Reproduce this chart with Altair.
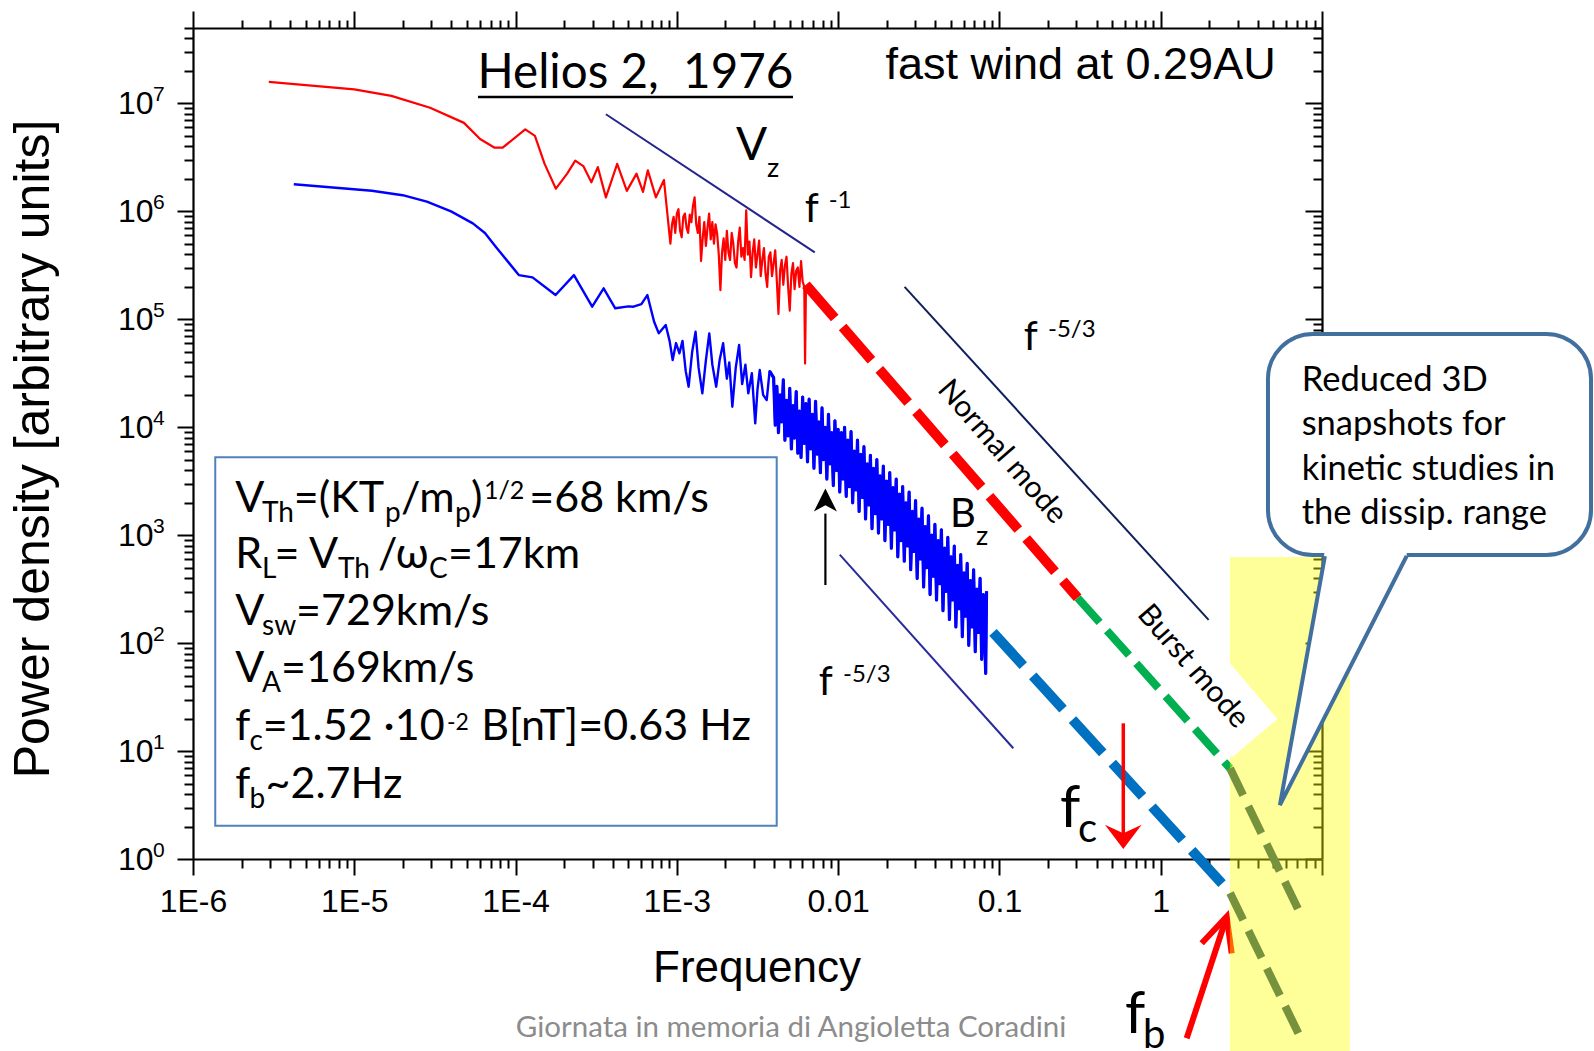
import altair as alt
import numpy as np
import pandas as pd

# ---------------- spectra (log10 f [Hz], log10 power) ----------------
vz_logf = [-5.53, -5.00, -4.77, -4.53, -4.32, -4.22, -4.13, -4.08, -3.94, -3.88, -3.82, -3.75,
           -3.68, -3.63, -3.58, -3.53, -3.49, -3.44, -3.37, -3.31, -3.25, -3.21, -3.18, -3.13,
           -3.08,
           -3.04, -3.03, -3.02, -3.01, -3.00, -2.99, -2.98, -2.97, -2.96, -2.95,
           -2.94, -2.93, -2.92, -2.91, -2.90, -2.89, -2.88, -2.87, -2.86, -2.85,
           -2.84, -2.83, -2.82, -2.81, -2.80, -2.79, -2.78, -2.77, -2.76, -2.75,
           -2.74, -2.73, -2.72, -2.71, -2.70, -2.69, -2.68, -2.67, -2.66, -2.65,
           -2.64, -2.63, -2.62, -2.61, -2.60, -2.59, -2.58, -2.57, -2.56, -2.55,
           -2.54, -2.53, -2.52, -2.51, -2.50, -2.49, -2.48, -2.47, -2.46, -2.45,
           -2.44, -2.43, -2.42, -2.41, -2.40, -2.39, -2.38, -2.37, -2.36, -2.35,
           -2.34, -2.33, -2.32, -2.31, -2.30, -2.29, -2.28, -2.27, -2.26, -2.25,
           -2.24, -2.23, -2.22, -2.21, -2.205, -2.20]
vz_logp = [7.20, 7.13, 7.07, 6.96, 6.82, 6.67, 6.59, 6.59, 6.76, 6.70, 6.44, 6.21,
           6.35, 6.47, 6.42, 6.27, 6.41, 6.13, 6.44, 6.19, 6.35, 6.18, 6.38, 6.13,
           6.29,
           5.70, 5.88, 5.95, 5.80, 5.98, 6.02, 5.82, 5.76, 5.95, 5.98,
           5.85, 5.80, 5.97, 5.90, 6.05, 6.13, 5.88, 5.80, 5.95, 5.54,
           5.75, 5.90, 5.68, 5.85, 5.98, 5.74, 5.90, 5.70, 5.88, 5.79,
           5.60, 5.27, 5.62, 5.75, 5.55, 5.82, 5.62, 5.55, 5.80, 5.70,
           5.52, 5.48, 5.72, 5.85, 5.58, 5.66, 5.55, 6.01, 5.60, 5.72,
           5.39, 5.62, 5.74, 5.48, 5.60, 5.73, 5.40, 5.55, 5.66, 5.42,
           5.30, 5.58, 5.62, 5.40, 5.52, 5.64, 5.35, 5.05, 5.45, 5.55,
           5.32, 5.50, 5.58, 5.30, 5.08, 5.42, 5.52, 5.28, 5.45, 5.48,
           5.30, 5.54, 5.35, 5.30, 4.59, 5.27]

bz_logf = [-5.375, -4.891, -4.70, -4.550, -4.40, -4.265, -4.19, -4.123, -3.980, -3.895, -3.752,
           -3.638, -3.525, -3.454, -3.382, -3.30, -3.269, -3.22, -3.183, -3.141, -3.112,
           -3.069, -3.045, -3.026, -3.005, -2.984, -2.965, -2.945, -2.927, -2.905, -2.884,
           -2.865, -2.842, -2.82, -2.799, -2.78, -2.756, -2.735, -2.713, -2.69, -2.675,
           -2.656, -2.635, -2.614, -2.595, -2.575, -2.557, -2.535, -2.514, -2.50, -2.486,
           -2.465, -2.443, -2.425,
           -2.40, -2.39, -2.38, -2.37, -2.36, -2.35, -2.34, -2.33, -2.32, -2.31, -2.30,
           -2.29, -2.28, -2.27, -2.26, -2.25, -2.24, -2.23, -2.22, -2.21, -2.20,
           -2.19, -2.18, -2.17, -2.16, -2.15, -2.14, -2.13, -2.12, -2.11, -2.10,
           -2.09, -2.08, -2.07, -2.06, -2.05, -2.04, -2.03, -2.02, -2.01, -2.00,
           -1.99, -1.98, -1.97, -1.96, -1.95, -1.94, -1.93, -1.92, -1.91, -1.90,
           -1.89, -1.88, -1.87, -1.86, -1.85, -1.84, -1.83, -1.82, -1.81, -1.80,
           -1.79, -1.78, -1.77, -1.76, -1.75, -1.74, -1.73, -1.72, -1.71, -1.70,
           -1.69, -1.68, -1.67, -1.66, -1.65, -1.64, -1.63, -1.62, -1.61, -1.60,
           -1.59, -1.58, -1.57, -1.56, -1.55, -1.54, -1.53, -1.52, -1.51, -1.50,
           -1.49, -1.48, -1.47, -1.46, -1.45, -1.44, -1.43, -1.42, -1.41, -1.40,
           -1.39, -1.38, -1.37, -1.36, -1.35, -1.34, -1.33, -1.32, -1.31, -1.30,
           -1.29, -1.28, -1.27, -1.26, -1.25, -1.24, -1.23, -1.22, -1.21, -1.20,
           -1.19, -1.18, -1.17, -1.16, -1.15, -1.14, -1.13, -1.12, -1.11, -1.10,
           -1.09, -1.085, -1.08]
bz_logp = [6.251, 6.191, 6.15, 6.090, 6.00, 5.889, 5.80, 5.673, 5.410, 5.389, 5.225,
           5.410, 5.117, 5.287, 5.102, 5.12, 5.117, 5.14, 5.225, 4.978, 4.870,
           4.947, 4.80, 4.623, 4.78, 4.685, 4.80, 4.52, 4.376, 4.70, 4.885,
           4.55, 4.314, 4.62, 4.870, 4.58, 4.376, 4.62, 4.778, 4.45, 4.60,
           4.190, 4.55, 4.762, 4.40, 4.58, 4.314, 4.50, 4.036, 4.35, 4.530,
           4.30, 4.252, 4.52,
           4.46, 4.02, 4.38, 3.95, 4.30, 4.05, 4.44, 3.88, 4.25, 3.92, 4.36,
           3.80, 4.20, 3.90, 4.33, 3.76, 4.15, 3.72, 4.28, 3.85, 4.22,
           3.68, 4.26, 3.80, 4.12, 3.62, 4.24, 3.75, 4.05, 3.58, 4.18,
           3.70, 4.00, 3.52, 4.12, 3.66, 3.95, 3.46, 4.06, 3.60, 3.98,
           3.40, 3.95, 3.52, 4.00, 3.36, 3.88, 3.45, 3.96, 3.30, 3.78,
           3.42, 3.88, 3.22, 3.75, 3.35, 3.82, 3.15, 3.66, 3.28, 3.74,
           3.06, 3.62, 3.20, 3.70, 3.02, 3.55, 3.15, 3.64, 2.95, 3.50,
           3.10, 3.58, 2.88, 3.44, 3.05, 3.52, 2.80, 3.38, 2.95, 3.45,
           2.76, 3.30, 2.90, 3.40, 2.68, 3.22, 2.85, 3.32, 2.60, 3.15,
           2.78, 3.25, 2.52, 3.08, 2.70, 3.18, 2.45, 3.00, 2.62, 3.10,
           2.40, 2.95, 2.55, 3.05, 2.30, 2.88, 2.48, 2.98, 2.22, 2.80,
           2.40, 2.90, 2.15, 2.72, 2.32, 2.82, 2.06, 2.65, 2.25, 2.74,
           1.98, 2.58, 2.15, 2.68, 1.92, 2.50, 2.10, 2.60, 1.85, 2.45,
           1.95, 1.72, 2.48]
bz_dense_from = -2.43   # start of the densely sampled high-frequency part

# extrapolated power laws (dashed), log10 end points
vz_normal_logf, vz_normal_logp = [-2.20, -0.515], [5.32, 2.42]
vz_burst_logf, vz_burst_logp = [-0.515, 0.43], [2.42, 0.84]
vz_diss_logf, vz_diss_logp = [0.43, 0.863], [0.84, -0.50]
bz_ext_logf, bz_ext_logp = [-1.04, 0.418], [2.10, -0.29]
bz_diss_logf, bz_diss_logp = [0.43, 0.865], [-0.315, -1.65]

# reference slopes f^-1 and f^-5/3
guide_seg = [0, 0, 1, 1, 2, 2]
guide_logf = [-3.44, -2.145, -1.588, 0.297, -1.99, -0.914]
guide_logp = [6.90, 5.62, 5.30, 2.216, 2.82, 1.026]
guide_col = ["#23248C", "#23248C", "#0E1F5B", "#0E1F5B", "#2A2A9C", "#2A2A9C"]

# characteristic frequencies
fc_logf, fb_logf = -0.232, 0.429

# ---------------- annotation texts ----------------
calibri_txt = [
    ("V", -2.633, 6.476, 46), ("z", -2.441, 6.321, 27),
    ("f", -2.207, 5.904, 40), ("-1", -2.059, 6.031, 24),
    ("f", -0.849, 4.716, 40), ("-5/3", -0.699, 4.839, 24),
    ("f", -2.121, 1.519, 40), ("-5/3", -1.970, 1.643, 24),
    ("B", -1.307, 3.079, 40), ("z", -1.145, 2.909, 27),
    ("f", -0.625, 0.299, 58), ("c", -0.513, 0.160, 40),
    ("f", -0.222, -1.612, 58), ("b", -0.110, -1.751, 40),
    # info box
    ("V", -5.738, 3.218, 43), ("Th", -5.572, 3.125, 28), ("=(KT", -5.375, 3.218, 43),
    ("p", -4.810, 3.125, 28), ("/m", -4.711, 3.218, 43), ("p", -4.376, 3.125, 28),
    (")", -4.276, 3.218, 43), ("1/2", -4.196, 3.332, 25), ("=68 km/s", -3.915, 3.218, 43),
    ("R", -5.738, 2.693, 43), ("L", -5.572, 2.601, 28), ("= V", -5.494, 2.693, 43),
    ("Th", -5.101, 2.601, 28), ("/ω", -4.853, 2.693, 43), ("C", -4.537, 2.601, 28),
    ("=17km", -4.419, 2.693, 43),
    ("V", -5.738, 2.168, 43), ("sw", -5.572, 2.075, 28), ("=729km/s", -5.361, 2.168, 43),
    ("V", -5.738, 1.643, 43), ("A", -5.572, 1.550, 28), ("=169km/s", -5.454, 1.643, 43),
    ("f", -5.738, 1.102, 43), ("c", -5.650, 1.010, 28), ("=1.52 ·10", -5.568, 1.102, 43),
    ("-2", -4.425, 1.195, 23), ("B[nT]=0.63 Hz", -4.213, 1.102, 43),
    ("f", -5.738, 0.562, 43), ("b", -5.650, 0.470, 28), ("~2.7Hz", -5.550, 0.562, 43),
    # callout
    ("Reduced 3D", 0.874, 4.339, 34.5), ("snapshots for", 0.874, 3.928, 34.5),
    ("kinetic studies in", 0.874, 3.511, 34.5), ("the dissip. range", 0.874, 3.104, 34.5),
]
rotated_txt = [("Normal mode", -0.984, 3.771, 30, 49), ("Burst mode", 0.200, 1.782, 30, 49)]
title_txt = ("Helios 2,\u00a0 1976", -3.257, 7.140, 47.5)
title_line_logf, title_line_logp = [-4.233, -2.280], 7.059
wind_txt = ("fast wind at 0.29AU", -0.497, 7.223, 45)
credit_txt = ("Giornata in memoria di Angioletta Coradini", -2.292, -1.649, 29.5)

# y tick exponents (decades shown on the power axis)
y_decades = [0, 1, 2, 3, 4, 5, 6, 7]

# boxes (log10 corners)
info_box = (-5.862, -2.381, 3.722, 0.309)
band_box = (0.429, 1.173, 2.798, -1.80)
callout_box = (0.665, 2.668, 4.864, 2.816)
callout_tail_logf = [1.018, 0.739, 1.525]
callout_tail_logp = [2.807, 0.500, 2.807]
burst_label_bg_logf, burst_label_bg_logp = [-0.125, 0.581], [2.359, 1.117]

# arrows
up_arrow = (-2.079, 2.538, 3.20, 3.326)      # x, shaft bottom, shaft top, head centre
fc_arrow = (fc_logf, 1.257, 0.22, 0.204)
fb_shaft_logf, fb_shaft_logp = [0.161, 0.409], [-1.661, -0.535]
fb_head_logf, fb_head_logp = [0.254, 0.409, 0.440], [-0.781, -0.535, -0.874]

# ---------------- helpers ----------------
XS = alt.Scale(type="log", domain=[1e-6, 10], nice=False)
YS = alt.Scale(type="log", domain=[1, 5e7], nice=False)


def pts(lf, lp, **cols):
    d = pd.DataFrame({"f": np.power(10.0, np.asarray(lf, float)),
                      "p": np.power(10.0, np.asarray(lp, float))})
    d["i"] = np.arange(len(d))
    for k, v in cols.items():
        d[k] = v
    return d


def xy(extra=None):
    e = dict(x=alt.X("f:Q", scale=XS, axis=None), y=alt.Y("p:Q", scale=YS, axis=None))
    if extra:
        e.update(extra)
    return e


def line(df, color, width, dash=None, cap="butt", join="round", detail=None):
    kw = dict(color=color, strokeWidth=width, strokeCap=cap, strokeJoin=join)
    if dash:
        kw["strokeDash"] = dash
    e = xy({"order": alt.Order("i:Q")})
    if detail:
        e["detail"] = alt.Detail(detail + ":N")
    return alt.Chart(df).mark_line(**kw).encode(**e)


def rect(box, **kw):
    d = pd.DataFrame({"f": [10 ** box[0]], "f2": [10 ** box[1]],
                      "p": [10 ** box[2]], "p2": [10 ** box[3]]})
    return alt.Chart(d).mark_rect(**kw).encode(
        x=alt.X("f:Q", scale=XS, axis=None), x2="f2", y=alt.Y("p:Q", scale=YS, axis=None), y2="p2")


def text_layer(rows, font, align="left", baseline="alphabetic", color="black", angle=False):
    cols = ["txt", "lf", "lp", "fs"] + (["ang"] if angle else [])
    d = pd.DataFrame(rows, columns=cols)
    d["f"] = 10 ** d["lf"]
    d["p"] = 10 ** d["lp"]
    if not angle:
        d["ang"] = 0
    return alt.Chart(d).mark_text(font=font, align=align, baseline=baseline, color=color).encode(
        **xy({"text": alt.Text("txt:N"), "size": alt.Size("fs:Q", scale=None),
              "angle": alt.Angle("ang:Q", scale=None)}))


def head(x, y, shape, size, color):
    d = pts([x], [y])
    return alt.Chart(d).mark_point(shape=shape, size=size, filled=True, color=color,
                                   opacity=1, strokeWidth=0).encode(**xy())


# ---------------- axes ----------------
x_ticks = [m * 10.0 ** e for e in range(-6, 1) for m in range(1, 10)] + [10.0]
y_ticks = [m * 10.0 ** e for e in range(0, 8) for m in range(1, 10) if m * 10.0 ** e <= 5e7]
LG = "(log(datum.value)/LN10)"
MAJ = f"abs({LG} - round({LG})) < 0.001"
xlab = (f"{MAJ} ? (round({LG}) <= -3 ? '1E' + round({LG}) : round({LG}) == -2 ? '0.01' : "
        f"round({LG}) == -1 ? '0.1' : round({LG}) == 0 ? '1' : '') : ''")
ylab = f"{MAJ} ? '10' : ''"


def tsize(big, small):
    return {"condition": {"test": MAJ, "value": big}, "value": small}


common = dict(domainColor="black", domainWidth=2.2, tickColor="black", tickWidth=2,
              grid=False, zindex=0, labelOverlap=False, labelFlush=False)
x_bottom = alt.Axis(orient="bottom", values=x_ticks, labelExpr=xlab, tickSize=tsize(16, 9),
                    labelFont="Liberation Sans", labelFontSize=32, labelColor="black",
                    labelPadding=36, labelBaseline="alphabetic",
                    title="Frequency", titleFont="Liberation Sans", titleFontSize=44,
                    titleFontWeight="normal", titleColor="black", titleX=563.5, titleY=122,
                    titleBaseline="alphabetic", titleAlign="center", **common)
y_left = alt.Axis(orient="left", values=y_ticks, labelExpr=ylab, tickSize=tsize(16, 9),
                  labelFont="Liberation Sans", labelFontSize=32, labelColor="black",
                  labelPadding=24, labelBaseline="middle", labelAlign="right",
                  title="Power density [arbitrary units]", titleFont="Liberation Sans",
                  titleFontSize=50, titleFontWeight="normal", titleColor="black",
                  titleX=-145, titleY=420.5, titleAngle=270, titleBaseline="alphabetic",
                  titleAlign="center", **common)
x_top = alt.Axis(orient="top", values=x_ticks, labels=False, tickSize=tsize(17, 8), title=None,
                 **common)
y_right = alt.Axis(orient="left", offset=-1129, values=y_ticks, labels=False,
                   tickSize=tsize(17, 9), title=None, **common)

axdf = pd.DataFrame({"f": [1e-3], "p": [10.0]})
axisA = alt.Chart(axdf).mark_point(opacity=0).encode(
    x=alt.X("f:Q", scale=XS, axis=x_bottom), y=alt.Y("p:Q", scale=YS, axis=y_left))
axisB = alt.Chart(axdf).mark_point(opacity=0).encode(
    x=alt.X("f:Q", scale=XS, axis=x_top), y=alt.Y("p:Q", scale=YS, axis=y_right))

# exponent of the power-axis tick labels (10^k)
expdf = pd.DataFrame({"f": [1e-6] * len(y_decades), "p": [10.0 ** k for k in y_decades],
                      "txt": [str(k) for k in y_decades]})
exp_layer = alt.Chart(expdf).mark_text(font="Liberation Sans", fontSize=21, align="left",
                                       baseline="alphabetic", dx=-40, dy=-2, color="black").encode(
    **xy({"text": alt.Text("txt:N")}))

# ---------------- layers ----------------
layers = [axisA, axisB, exp_layer]
layers.append(rect(info_box, fill="white", stroke="#4F81BD", strokeWidth=2))
gdf = pts(guide_logf, guide_logp, seg=guide_seg, col=guide_col)
layers.append(alt.Chart(gdf).mark_line(strokeWidth=2).encode(
    **xy({"order": alt.Order("i:Q"), "detail": alt.Detail("seg:N"),
          "color": alt.Color("col:N", scale=None)})))
layers.append(line(pts(vz_logf, vz_logp), "#FF0000", 2.2))
bz_df = pts(bz_logf, bz_logp)
layers.append(line(bz_df, "#0000FF", 2.4))
layers.append(line(bz_df, "#0000FF", 3.2).transform_filter(
    alt.datum.f >= float(10 ** bz_dense_from)))
layers.append(line(pts(vz_normal_logf, vz_normal_logp), "#FF0000", 10, dash=[44, 12]))
layers.append(line(pts(vz_burst_logf, vz_burst_logp), "#00B050", 8, dash=[33, 11]))
layers.append(line(pts(bz_ext_logf, bz_ext_logp), "#0070C0", 10, dash=[45, 14]))

# black arrow
layers.append(line(pts([up_arrow[0]] * 2, [up_arrow[1], up_arrow[2]]), "black", 2.2))
layers.append(head(up_arrow[0], up_arrow[3], "M0,-1L1,1L0,0.45L-1,1Z", 529, "black"))
# f_c arrow
layers.append(line(pts([fc_arrow[0]] * 2, [fc_arrow[1], fc_arrow[2]]), "#FF0000", 3.5))
layers.append(head(fc_arrow[0], fc_arrow[3], "M-1,-0.66L0,0.66L1,-0.66L0,-0.2Z", 1347, "#FF0000"))
# f_b arrow
layers.append(line(pts(fb_shaft_logf, fb_shaft_logp), "#FF0000", 6))
layers.append(line(pts(fb_head_logf, fb_head_logp), "#FF0000", 6, join="miter"))
# title underline
layers.append(line(pts(title_line_logf, [title_line_logp] * 2), "black", 2.5))

# dissipation range highlight
layers.append(rect(band_box, color="#FFFF00", opacity=0.4))
layers.append(line(pts(burst_label_bg_logf, burst_label_bg_logp), "white", 60))
layers.append(line(pts(vz_diss_logf, vz_diss_logp), "#76923C", 8, dash=[30, 12]))
layers.append(line(pts(bz_diss_logf, bz_diss_logp), "#76923C", 8, dash=[30, 12]))

# callout
layers.append(rect(callout_box, fill="white", stroke="#41709F", strokeWidth=4, cornerRadius=45))
tail = pd.DataFrame({"f": 10 ** np.array([0.739, 1.018, 1.525]),
                     "p": 10 ** np.array([0.500, 2.86, 2.86]),
                     "p2": 10 ** np.array([0.500, 1.319, 2.807])})
layers.append(alt.Chart(tail).mark_area(color="white", opacity=1).encode(
    x=alt.X("f:Q", scale=XS, axis=None), y=alt.Y("p:Q", scale=YS, axis=None), y2="p2"))
layers.append(line(pts(callout_tail_logf, callout_tail_logp), "#41709F", 4, join="miter"))

# texts
layers.append(text_layer(calibri_txt, "Lato"))
layers.append(text_layer(rotated_txt, "Lato", align="center", baseline="middle", angle=True))
layers.append(text_layer([title_txt], "Lato", align="center"))
layers.append(text_layer([wind_txt], "Liberation Sans", align="center"))
layers.append(text_layer([credit_txt], "Lato", align="center", color="#8C8C8C"))

chart = alt.layer(*layers).resolve_axis(x="independent", y="independent").properties(
    width=1129, height=831,
    autosize=alt.AutoSizeParams(type="none"),
    padding={"left": 193, "top": 28, "right": 272, "bottom": 192},
    background="white",
).configure_view(stroke=None)

chart.save("out.html", embed_options={"renderer": "svg", "actions": False})
